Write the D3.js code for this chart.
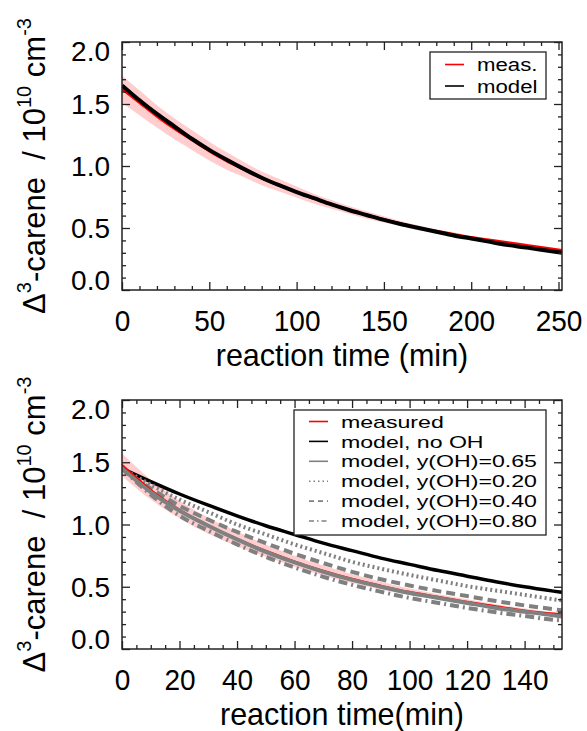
<!DOCTYPE html>
<html>
<head>
<meta charset="utf-8">
<script src="https://cdn.jsdelivr.net/npm/d3@7"></script>
<style>
  body { margin: 0; background: #fff; }
  svg text { font-family: "Liberation Sans", Arial, sans-serif; fill: #000; }
</style>
</head>
<body>
<svg id="chart" width="587" height="731"></svg>
<script>
// ---- top panel data (reaction time in min, concentration in 1e10 cm-3)
const topTime = [0, 10, 20, 30, 40, 50, 60, 70, 80, 90, 100, 110, 120, 130, 140, 150, 160, 170, 180, 190, 200, 210, 220, 230, 240, 252];
const topMeas = [1.62, 1.51, 1.40, 1.30, 1.21, 1.12, 1.04, 0.97, 0.90, 0.845, 0.79, 0.735, 0.69, 0.645, 0.605, 0.57, 0.535, 0.50, 0.475, 0.45, 0.425, 0.405, 0.385, 0.365, 0.345, 0.32];
const topErr  = [0.11, 0.10, 0.09, 0.085, 0.08, 0.075, 0.07, 0.06, 0.055, 0.05, 0.045, 0.04, 0.035, 0.03, 0.03, 0.025, 0.02, 0.02, 0.015, 0.015, 0.01, 0.01, 0.01, 0.01, 0.01, 0.01];
const topModel = [1.65, 1.53, 1.42, 1.32, 1.22, 1.13, 1.05, 0.975, 0.905, 0.845, 0.79, 0.74, 0.69, 0.645, 0.605, 0.565, 0.53, 0.50, 0.47, 0.44, 0.415, 0.39, 0.365, 0.345, 0.325, 0.30];

// ---- bottom panel data
const botTime = [0, 10, 20, 30, 40, 50, 60, 70, 80, 90, 100, 110, 120, 130, 140, 150, 153];
const botMeas = [1.48, 1.28, 1.12, 0.99, 0.885, 0.79, 0.705, 0.63, 0.565, 0.51, 0.46, 0.42, 0.38, 0.345, 0.31, 0.285, 0.28];
const botErr  = [0.09, 0.08, 0.07, 0.065, 0.06, 0.05, 0.045, 0.04, 0.035, 0.03, 0.025, 0.02, 0.02, 0.015, 0.015, 0.01, 0.01];
const botNoOH = [1.45, 1.345, 1.245, 1.155, 1.07, 0.99, 0.92, 0.85, 0.79, 0.73, 0.68, 0.63, 0.585, 0.54, 0.50, 0.465, 0.455];
const botOH065 = [1.45, 1.26, 1.11, 0.99, 0.88, 0.78, 0.695, 0.62, 0.555, 0.50, 0.45, 0.41, 0.37, 0.33, 0.30, 0.27, 0.26];
const botOH020 = [1.45, 1.32, 1.20, 1.10, 1.00, 0.92, 0.84, 0.77, 0.70, 0.645, 0.595, 0.55, 0.505, 0.47, 0.435, 0.40, 0.39];
const botOH040 = [1.45, 1.29, 1.15, 1.04, 0.94, 0.85, 0.765, 0.69, 0.62, 0.56, 0.51, 0.465, 0.425, 0.385, 0.35, 0.32, 0.31];
const botOH080 = [1.45, 1.24, 1.07, 0.95, 0.84, 0.74, 0.655, 0.58, 0.515, 0.46, 0.41, 0.37, 0.33, 0.295, 0.265, 0.235, 0.23];

const topLegend = ["meas.", "model"];
const botLegend = ["measured", "model, no OH", "model, y(OH)=0.65", "model, y(OH)=0.20", "model, y(OH)=0.40", "model, y(OH)=0.80"];

const svg = d3.select("#chart");
const RED = "#ff0000", GRAY = "#808080", BAND = "#ffc4c4", AXC = "#222";

function panel(cfg) {
  const { x0, x1, y0, y1, xMax, xMajor, xMinor, xTitle, xTitleY } = cfg;
  const x = d3.scaleLinear().domain([0, xMax]).range([x0, x1]);
  const y = d3.scaleLinear().domain([0, 2]).range([y1, y0]);
  const g = svg.append("g");
  const clipId = "clip" + Math.round(y0);
  g.append("clipPath").attr("id", clipId).append("rect")
    .attr("x", x0).attr("y", y0).attr("width", x1 - x0).attr("height", y1 - y0);
  const plot = g.append("g").attr("clip-path", `url(#${clipId})`);

  // axes: bottom/left with labels, top/right mirrored
  const xMaj = d3.range(0, xMax + 0.01, xMajor);
  const xMin = d3.range(0, xMax + 0.01, xMinor).filter(v => v % xMajor !== 0);
  const yMaj = d3.range(0, 2.01, 0.5);
  const yMin = d3.range(0, 2.01, 0.1).filter(v => Math.abs(v / 0.5 - Math.round(v / 0.5)) > 0.01);

  const axes = g.append("g");
  function styleAxis(sel) {
    sel.select(".domain").remove();
    sel.selectAll("line").attr("stroke", AXC).attr("stroke-width", 1.3);
  }
  axes.append("g").attr("transform", `translate(0,${y1})`)
    .call(d3.axisBottom(x).tickValues(xMaj).tickSizeInner(-8).tickSizeOuter(0).tickPadding(0).tickFormat(d3.format("d")))
    .call(styleAxis)
    .call(s => s.selectAll("text").attr("font-size", 28).attr("y", 0).attr("dy", 0)
      .attr("transform", "translate(0,41) scale(1,1.08)"));
  axes.append("g").attr("transform", `translate(0,${y1})`)
    .call(d3.axisBottom(x).tickValues(xMin).tickSizeInner(-4).tickSizeOuter(0).tickFormat(""))
    .call(styleAxis);
  axes.append("g").attr("transform", `translate(0,${y0})`)
    .call(d3.axisTop(x).tickValues(xMaj).tickSizeInner(-8).tickSizeOuter(0).tickFormat(""))
    .call(styleAxis);
  axes.append("g").attr("transform", `translate(0,${y0})`)
    .call(d3.axisTop(x).tickValues(xMin).tickSizeInner(-4).tickSizeOuter(0).tickFormat(""))
    .call(styleAxis);

  axes.append("g").attr("transform", `translate(${x0},0)`)
    .call(d3.axisLeft(y).tickValues(yMaj).tickSizeInner(-8).tickSizeOuter(0).tickPadding(12).tickFormat(d3.format(".1f")))
    .call(styleAxis)
    .call(s => s.selectAll("text").attr("font-size", 28)
      .attr("dy", d => d === 0 ? "-0.02em" : d === 2 ? "0.66em" : "0.34em"));
  axes.append("g").attr("transform", `translate(${x0},0)`)
    .call(d3.axisLeft(y).tickValues(yMin).tickSizeInner(-4).tickSizeOuter(0).tickFormat(""))
    .call(styleAxis);
  axes.append("g").attr("transform", `translate(${x1},0)`)
    .call(d3.axisRight(y).tickValues(yMaj).tickSizeInner(-8).tickSizeOuter(0).tickFormat(""))
    .call(styleAxis);
  axes.append("g").attr("transform", `translate(${x1},0)`)
    .call(d3.axisRight(y).tickValues(yMin).tickSizeInner(-4).tickSizeOuter(0).tickFormat(""))
    .call(styleAxis);

  // frame
  g.append("rect").attr("x", x0).attr("y", y0).attr("width", x1 - x0).attr("height", y1 - y0)
    .attr("fill", "none").attr("stroke", AXC).attr("stroke-width", 1.5);

  // x title
  g.append("text").attr("x", (x0 + x1) / 2).attr("y", xTitleY).attr("text-anchor", "middle")
    .attr("font-size", 30.5).text(xTitle);

  // y title
  const yt = g.append("text")
    .attr("transform", `translate(45,${(y0 + y1) / 2}) rotate(-90)`)
    .attr("text-anchor", "middle").attr("font-size", 31);
  yt.append("tspan").text("\u0394");
  yt.append("tspan").attr("font-size", 20).attr("dy", -14).text("3");
  yt.append("tspan").attr("dy", 14).text("-carene\u00a0\u00a0/ 10");
  yt.append("tspan").attr("font-size", 20).attr("dy", -14).text("10");
  yt.append("tspan").attr("dy", 14).text(" cm");
  yt.append("tspan").attr("font-size", 20).attr("dy", -14).text("-3");

  return { x, y, plot, g };
}

function drawBand(p, t, m, e) {
  const pts = t.map((d, i) => ({ t: d, lo: m[i] - e[i], hi: m[i] + e[i] }));
  p.plot.append("path").datum(pts)
    .attr("fill", BAND).attr("opacity", 0.85)
    .attr("d", d3.area().curve(d3.curveMonotoneX).x(d => p.x(d.t)).y0(d => p.y(d.lo)).y1(d => p.y(d.hi)));
}
function drawLine(p, t, v, color, width, dash) {
  p.plot.append("path").datum(t.map((d, i) => [d, v[i]]))
    .attr("fill", "none").attr("stroke", color).attr("stroke-width", width)
    .attr("stroke-dasharray", dash || null)
    .attr("d", d3.line().curve(d3.curveMonotoneX).x(d => p.x(d[0])).y(d => p.y(d[1])));
}

// ---- top panel
const pTop = panel({ x0: 122, x1: 562, y0: 42, y1: 290, xMax: 252, xMajor: 50, xMinor: 10,
  xTitle: "reaction time (min)", xTitleY: 366 });
drawBand(pTop, topTime, topMeas, topErr);
drawLine(pTop, topTime, topMeas, RED, 2.5);
drawLine(pTop, topTime, topModel, "#000", 4);

// ---- bottom panel
const pBot = panel({ x0: 122, x1: 562, y0: 400, y1: 649, xMax: 153, xMajor: 20, xMinor: 5,
  xTitle: "reaction time(min)", xTitleY: 724.5 });
drawBand(pBot, botTime, botMeas, botErr);
drawLine(pBot, botTime, botNoOH, "#000", 3.5);
drawLine(pBot, botTime, botOH020, GRAY, 4, "2,3");
drawLine(pBot, botTime, botOH040, GRAY, 4, "9,5");
drawLine(pBot, botTime, botOH080, GRAY, 4, "9,4,2,4");
drawLine(pBot, botTime, botMeas, RED, 1.8);
drawLine(pBot, botTime, botOH065, GRAY, 4);

// ---- legends
function legend(x, y, w, h, rowY0, rowStep, fs, sx, labels, styles) {
  const lg = svg.append("g");
  lg.append("rect").attr("x", x).attr("y", y).attr("width", w).attr("height", h)
    .attr("fill", "#fff").attr("stroke", "#222").attr("stroke-width", 1.3);
  labels.forEach((lab, i) => {
    const cy = rowY0 + i * rowStep;
    lg.append("line").attr("x1", x + 15).attr("x2", x + 34).attr("y1", cy).attr("y2", cy)
      .attr("stroke", styles[i].c).attr("stroke-width", 1.6).attr("stroke-dasharray", styles[i].d || null);
    lg.append("text").attr("font-size", fs)
      .attr("transform", `translate(${x + 47},${cy + fs * 0.36}) scale(${sx},1)`).text(lab);
  });
}
legend(430, 52, 116, 47, 64.5, 21.5, 18.5, 1.2, topLegend, [{ c: RED }, { c: "#000" }]);
legend(294, 410, 252, 125, 421.5, 19.9, 17, 1.36, botLegend,
  [{ c: RED }, { c: "#000" }, { c: GRAY }, { c: GRAY, d: "1.5,3" }, { c: GRAY, d: "5,4" }, { c: GRAY, d: "5,3,1.5,3" }]);
</script>
</body>
</html>
